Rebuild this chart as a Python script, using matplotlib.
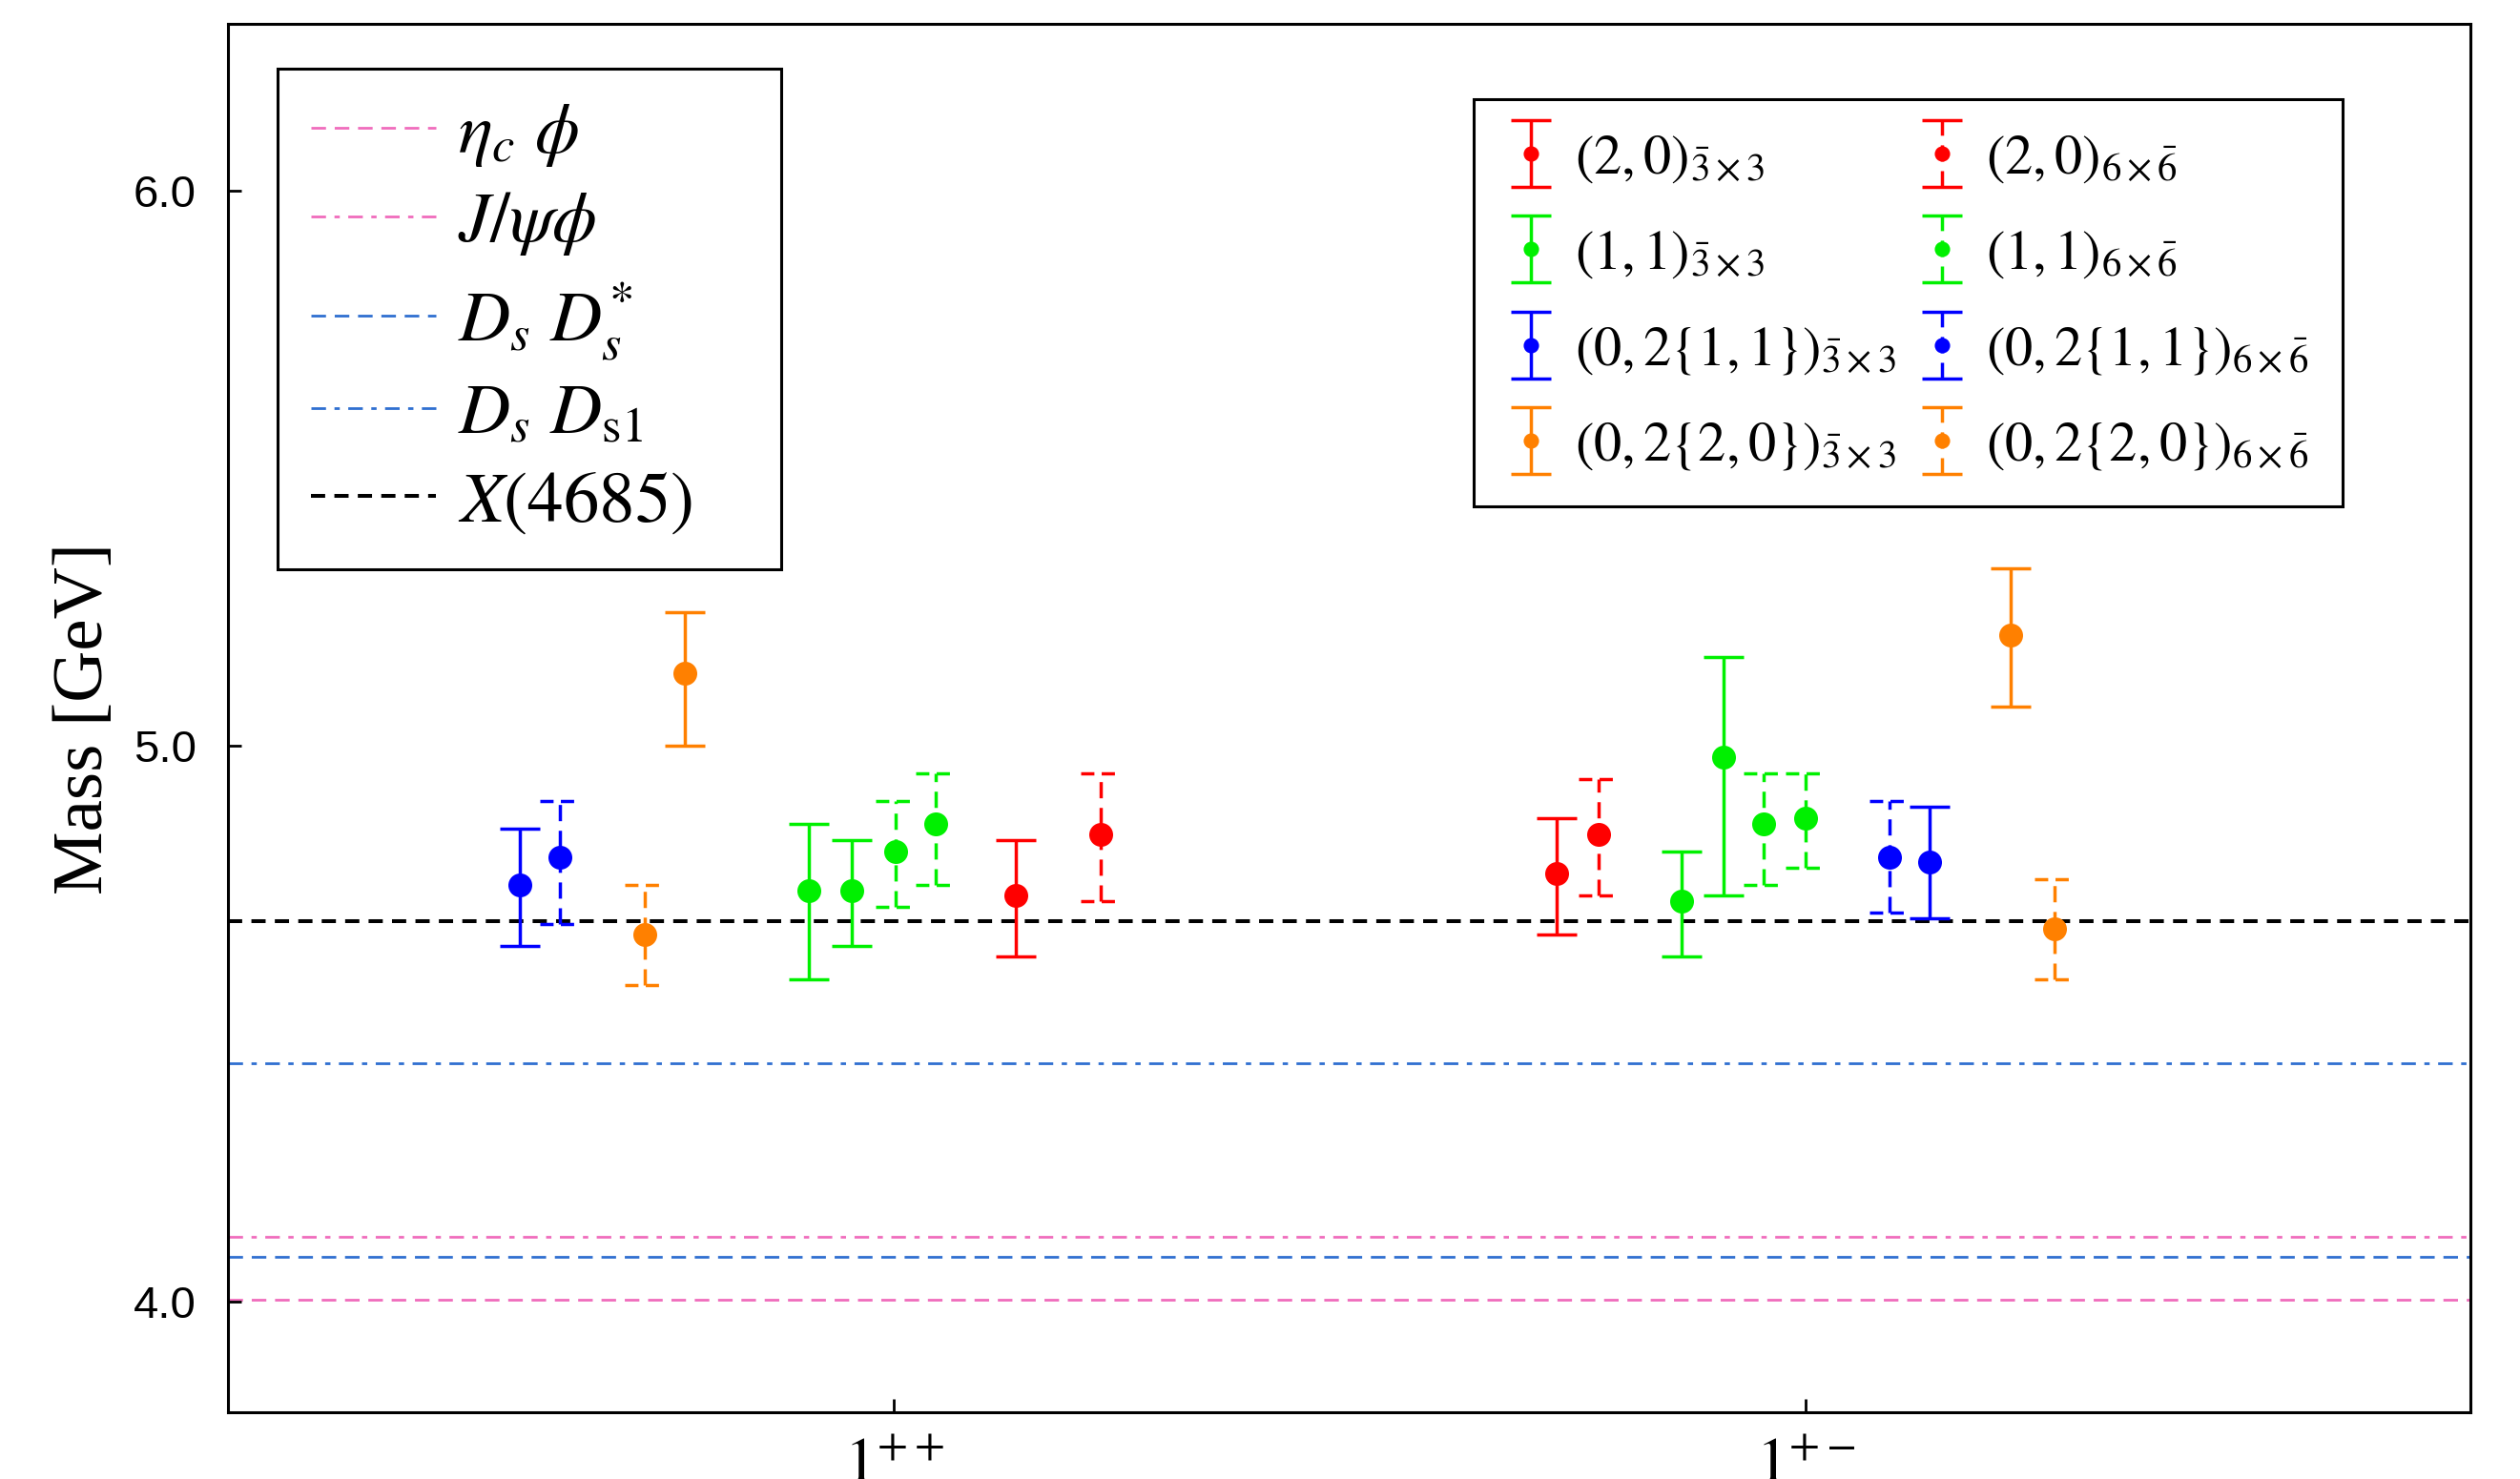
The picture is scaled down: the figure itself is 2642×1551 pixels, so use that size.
import numpy as np
import matplotlib
matplotlib.use("Agg")
import matplotlib.pyplot as plt
from matplotlib.legend_handler import HandlerErrorbar
from matplotlib.container import ErrorbarContainer

plt.rcParams['font.family'] = ['Liberation Serif', 'DejaVu Serif']
plt.rcParams['mathtext.fontset'] = 'stix'

# categories on the x axis
categories = [r'$1^{++}$', r'$1^{+-}$']
cat_pos = [1, 2]

# thresholds / reference masses (GeV)
thr_labels = [r'$\eta_c\ \phi$', r'$J/\psi\phi$', r'$D_s\ D_s^{*}$',
              r'$D_s\ D_{\rm s1}$', r'$X\mathrm{(4685)}$']
thr_mass = [4.003, 4.116, 4.080, 4.428, 4.685]
thr_color = ['#f06cbc', '#f06cbc', '#2f6fd0', '#2f6fd0', 'black']
thr_style = [(0, (5.5, 3.3)), (0, (5.5, 3.2, 2.0, 3.2)), (0, (5.5, 3.3)),
             (0, (5.5, 3.2, 2.0, 3.2)), (0, (3.7, 2.4))]
thr_lw = [1.0, 1.0, 1.0, 1.0, 1.45]

# diquark configurations: category index, offset from the category tick, mass, errors
red_33_cat = [0, 1];       red_33_off = [0.134, -0.273]
red_33_m = [4.73, 4.77];   red_33_up = [0.10, 0.10]; red_33_dn = [0.11, 0.11]
red_66_cat = [0, 1];       red_66_off = [0.227, -0.227]
red_66_m = [4.84, 4.84];   red_66_up = [0.11, 0.10]; red_66_dn = [0.12, 0.11]

green_33_cat = [0, 0, 1, 1]; green_33_off = [-0.093, -0.046, -0.136, -0.090]
green_33_m = [4.74, 4.74, 4.72, 4.98]
green_33_up = [0.12, 0.09, 0.09, 0.18]; green_33_dn = [0.16, 0.10, 0.10, 0.25]
green_66_cat = [0, 0, 1, 1]; green_66_off = [0.002, 0.046, -0.046, 0.0]
green_66_m = [4.81, 4.86, 4.86, 4.87]
green_66_up = [0.09, 0.09, 0.09, 0.08]; green_66_dn = [0.10, 0.11, 0.11, 0.09]

blue_33_cat = [0, 1];      blue_33_off = [-0.410, 0.136]
blue_33_m = [4.75, 4.79];  blue_33_up = [0.10, 0.10]; blue_33_dn = [0.11, 0.10]
blue_66_cat = [0, 1];      blue_66_off = [-0.366, 0.092]
blue_66_m = [4.80, 4.80];  blue_66_up = [0.10, 0.10]; blue_66_dn = [0.12, 0.10]

orange_33_cat = [0, 1];    orange_33_off = [-0.229, 0.225]
orange_33_m = [5.13, 5.20]; orange_33_up = [0.11, 0.12]; orange_33_dn = [0.13, 0.13]
orange_66_cat = [0, 1];    orange_66_off = [-0.273, 0.273]
orange_66_m = [4.66, 4.67]; orange_66_up = [0.09, 0.09]; orange_66_dn = [0.09, 0.09]

series = [
    (r'$(2,0)_{\bar{3}\times3}$', '#ff0000', False, red_33_cat, red_33_off, red_33_m, red_33_up, red_33_dn),
    (r'$(1,1)_{\bar{3}\times3}$', '#00f000', False, green_33_cat, green_33_off, green_33_m, green_33_up, green_33_dn),
    (r'$(0,2\{1,1\})_{\bar{3}\times3}$', '#0000ff', False, blue_33_cat, blue_33_off, blue_33_m, blue_33_up, blue_33_dn),
    (r'$(0,2\{2,0\})_{\bar{3}\times3}$', '#ff8000', False, orange_33_cat, orange_33_off, orange_33_m, orange_33_up, orange_33_dn),
    (r'$(2,0)_{6\times\bar{6}}$', '#ff0000', True, red_66_cat, red_66_off, red_66_m, red_66_up, red_66_dn),
    (r'$(1,1)_{6\times\bar{6}}$', '#00f000', True, green_66_cat, green_66_off, green_66_m, green_66_up, green_66_dn),
    (r'$(0,2\{1,1\})_{6\times\bar{6}}$', '#0000ff', True, blue_66_cat, blue_66_off, blue_66_m, blue_66_up, blue_66_dn),
    (r'$(0,2\{2,0\})_{6\times\bar{6}}$', '#ff8000', True, orange_66_cat, orange_66_off, orange_66_m, orange_66_up, orange_66_dn),
]

fig = plt.figure(figsize=(13.21, 7.755), dpi=200)
ax = fig.add_axes([0.0905, 0.0451, 0.890, 0.9388])

thr_handles = []
for lab, m, c, ls, lw in zip(thr_labels, thr_mass, thr_color, thr_style, thr_lw):
    h = ax.axhline(m, color=c, ls=ls, lw=lw, zorder=1, label=lab)
    thr_handles.append(h)

cap_half = 0.022
err_handles = []
for lab, c, dashed, cat, off, m, up, dn in series:
    x = np.array([cat_pos[i] for i in cat]) + np.array(off)
    m = np.array(m); up = np.array(up); dn = np.array(dn)
    cont = ax.errorbar(x, m, yerr=[dn, up], fmt='o', color=c, ms=8,
                       elinewidth=1.25, capsize=7.5, capthick=1.25,
                       label=lab, zorder=3)
    if dashed:
        cont[2][0].set_linestyle((0, (4.9, 2.9)))
        for cl in cont[1]:
            cl.remove()
        for yy in (m + up, m - dn):
            ax.hlines(yy, x - cap_half, x + cap_half, colors=c,
                      linestyles=[(0, (4.0, 2.2))], lw=1.25, zorder=3)
    err_handles.append(cont)

ax.set_xlim(0.27, 2.73)
ax.set_ylim(3.8, 6.3)
ax.set_xticks(cat_pos)
ax.set_xticklabels(categories, fontsize=24)
ax.set_yticks([4.0, 5.0, 6.0])
ax.set_yticklabels(['4.0', '5.0', '6.0'], family='Liberation Sans', fontsize=17)
ax.tick_params(axis='both', direction='in', length=5, width=1.0)
ax.tick_params(axis='x', pad=10)
ax.tick_params(axis='y', pad=12)
for sp in ax.spines.values():
    sp.set_linewidth(1.1)
ax.set_ylabel('Mass [GeV]', fontsize=27, labelpad=6)

leg1 = ax.legend(handles=thr_handles, loc='upper left',
                 bbox_to_anchor=(0.022, 0.0, 0.2247, 0.968), mode='expand',
                 borderaxespad=0, fontsize=27, frameon=True, fancybox=False,
                 edgecolor='black', framealpha=1, handlelength=1.75,
                 handletextpad=0.3, labelspacing=0.3, borderpad=0.47)
leg1.get_frame().set_linewidth(1.1)
ax.add_artist(leg1)

leg2 = ax.legend(handles=err_handles, loc='upper left',
                 bbox_to_anchor=(0.5555, 0.0, 0.3875, 0.946), mode='expand',
                 borderaxespad=0, ncol=2, fontsize=21, frameon=True, fancybox=False,
                 edgecolor='black', framealpha=1, handlelength=0.8,
                 handletextpad=0.4, labelspacing=0.8, columnspacing=1.0,
                 markerscale=0.6, borderpad=0.62,
                 handler_map={ErrorbarContainer: HandlerErrorbar(yerr_size=0.6)})
leg2.get_frame().set_linewidth(1.1)

fig.savefig('out.png', dpi=200)
